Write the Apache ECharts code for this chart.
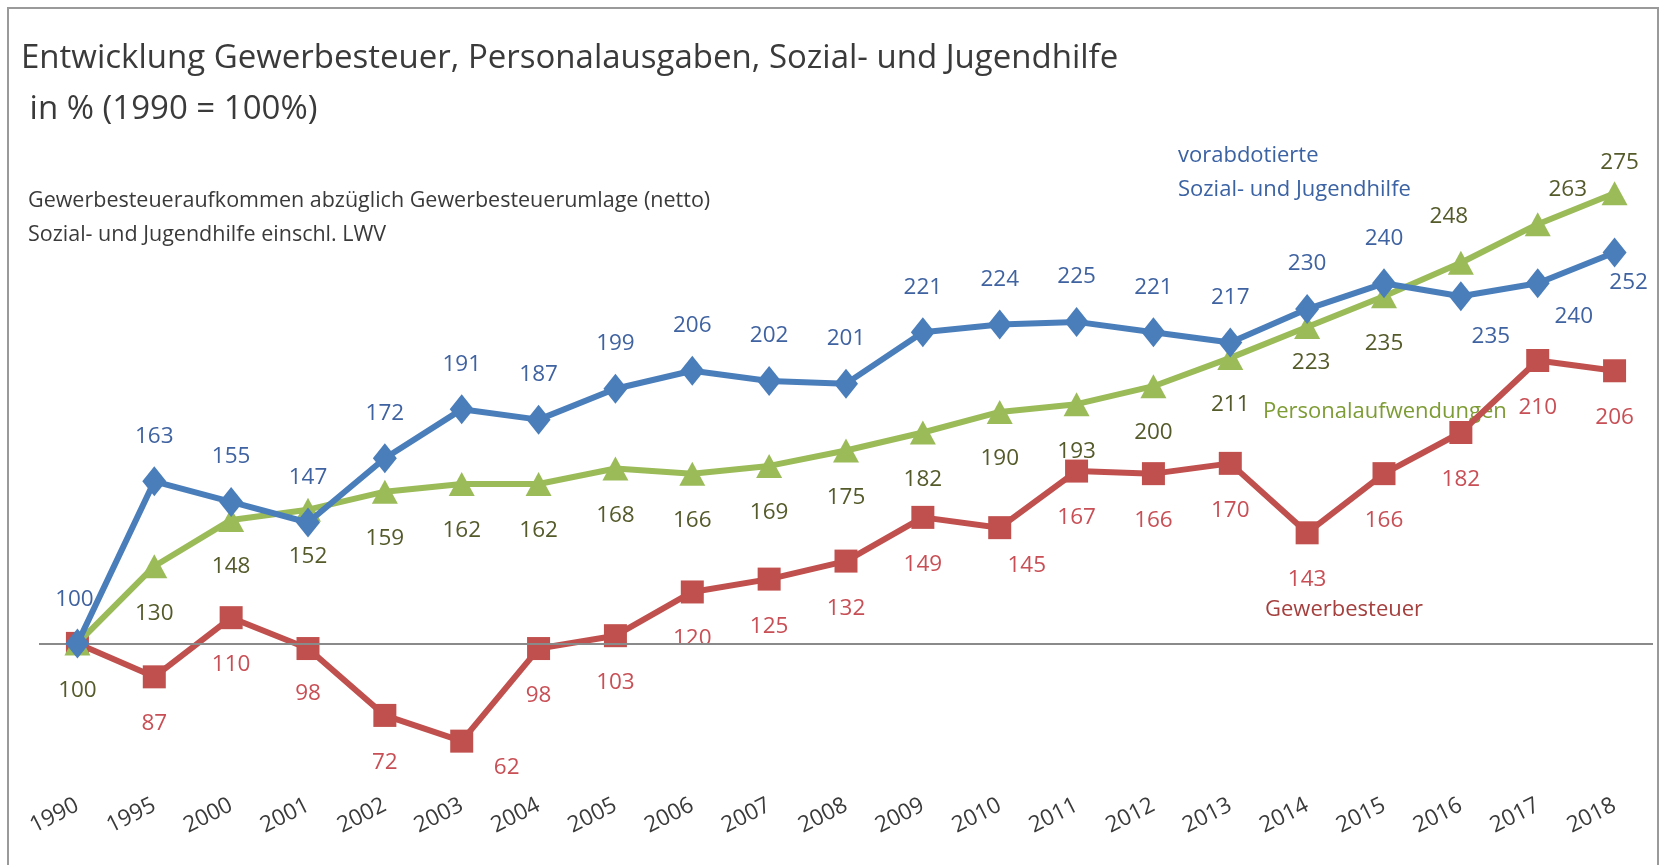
<!DOCTYPE html>
<html>
<head>
<meta charset="utf-8">
<script src="https://cdn.jsdelivr.net/npm/echarts@6/dist/echarts.min.js"></script>
<style>
  html, body { margin: 0; padding: 0; background: #fff; }
  #main { width: 1669px; height: 865px; }
</style>
</head>
<body>
<div id="main"></div>
<script>
// Jahre (Kategorien)
var years = ['1990', '1995', '2000', '2001', '2002', '2003', '2004', '2005', '2006', '2007',
  '2008', '2009', '2010', '2011', '2012', '2013', '2014', '2015', '2016', '2017', '2018'];

// vorabdotierte Sozial- und Jugendhilfe
var sozial = [100, 163, 155, 147, 172, 191, 187, 199, 206, 202, 201, 221, 224, 225, 221, 217, 230, 240, 235, 240, 252];
// Personalaufwendungen
var personal = [100, 130, 148, 152, 159, 162, 162, 168, 166, 169, 175, 182, 190, 193, 200, 211, 223, 235, 248, 263, 275];
// Gewerbesteuer
var gewerbe = [100, 87, 110, 98, 72, 62, 98, 103, 120, 125, 132, 149, 145, 167, 166, 170, 143, 166, 182, 210, 206];

var FONT = '"Open Sans", "Noto Sans", sans-serif';

// Beschriftung pro Punkt: oberhalb / unterhalb, einige leicht versetzt
function points(values, def, special) {
  return values.map(function (v, i) {
    var off = special[i] || def;
    if (off === 'none') {
      return { value: v, label: { show: false } };
    }
    return { value: v, label: { offset: off } };
  });
}

var above = [0, -45];
var below = [0, 47];

var chart = echarts.init(document.getElementById('main'));
chart.setOption({
  animation: false,
  textStyle: { fontFamily: FONT },
  graphic: [
    // Rahmen
    { type: 'rect', shape: { x: 8, y: 8, width: 1650, height: 870 },
      style: { fill: 'none', stroke: '#9a9a9a', lineWidth: 2 } },
    { type: 'text', left: 21, top: 33,
      style: { text: 'Entwicklung Gewerbesteuer, Personalausgaben, Sozial- und Jugendhilfe\n in % (1990 = 100%)',
        font: '33px ' + FONT, fill: '#3a3a3a', lineHeight: 51 } },
    { type: 'text', left: 28, top: 184,
      style: { text: 'Gewerbesteueraufkommen abzüglich Gewerbesteuerumlage (netto)\nSozial- und Jugendhilfe einschl. LWV',
        font: '21.5px ' + FONT, fill: '#3a3a3a', lineHeight: 34 } },
    { type: 'text', left: 1178, top: 139,
      style: { text: 'vorabdotierte\nSozial- und Jugendhilfe',
        font: '22px ' + FONT, fill: '#3b62a3', lineHeight: 34 } },
    { type: 'text', left: 1263, top: 401,
      style: { text: 'Personalaufwendungen', font: '22px ' + FONT, fill: '#7e9c35' } },
    { type: 'text', left: 1265, top: 599,
      style: { text: 'Gewerbesteuer', font: '22px ' + FONT, fill: '#a4403e' } }
  ],
  grid: { left: 39, right: 16, top: 129, bottom: 93 },
  xAxis: {
    type: 'category',
    data: years,
    boundaryGap: true,
    axisLine: { show: false },
    axisTick: { show: false },
    axisLabel: { rotate: 27, margin: 32, fontSize: 22.5, color: '#3a3a3a', fontFamily: FONT }
  },
  yAxis: {
    type: 'value',
    min: 50,
    max: 300,
    show: false
  },
  series: [
    {
      name: 'Gewerbesteuer',
      type: 'line',
      z: 3,
      data: points(gewerbe, below, { 0: 'none', 3: [0, 45], 5: [45, 26], 12: [27, 38] }),
      symbol: 'rect',
      symbolSize: 23,
      lineStyle: { color: '#c0504d', width: 6 },
      itemStyle: { color: '#c0504d' },
      label: { show: true, position: 'inside', fontSize: 22.5, color: '#c84f55', fontFamily: FONT },
      markLine: {
        silent: true,
        symbol: 'none',
        label: { show: false },
        lineStyle: { color: '#8a8a8a', width: 2, type: 'solid' },
        data: [{ yAxis: 100 }]
      }
    },
    {
      name: 'Personalaufwendungen',
      type: 'line',
      z: 4,
      data: points(personal, below, { 14: [0, 46], 16: [4, 36], 18: [-12, -46], 19: [30, -35], 20: [5, -31] }),
      symbol: 'triangle',
      symbolSize: [26, 24],
      lineStyle: { color: '#9bbb59', width: 6 },
      itemStyle: { color: '#9bbb59' },
      label: { show: true, position: 'inside', fontSize: 22.5, color: '#555a2a', fontFamily: FONT }
    },
    {
      name: 'Sozial- und Jugendhilfe',
      type: 'line',
      z: 5,
      data: points(sozial, above, { 0: [-3, -44], 18: [30, 40], 19: [36, 33], 20: [14, 30] }),
      symbol: 'diamond',
      symbolSize: [24, 30],
      lineStyle: { color: '#4a7ebb', width: 6 },
      itemStyle: { color: '#4a7ebb' },
      label: { show: true, position: 'inside', fontSize: 22.5, color: '#3f62a0', fontFamily: FONT }
    }
  ]
});
</script>
</body>
</html>
